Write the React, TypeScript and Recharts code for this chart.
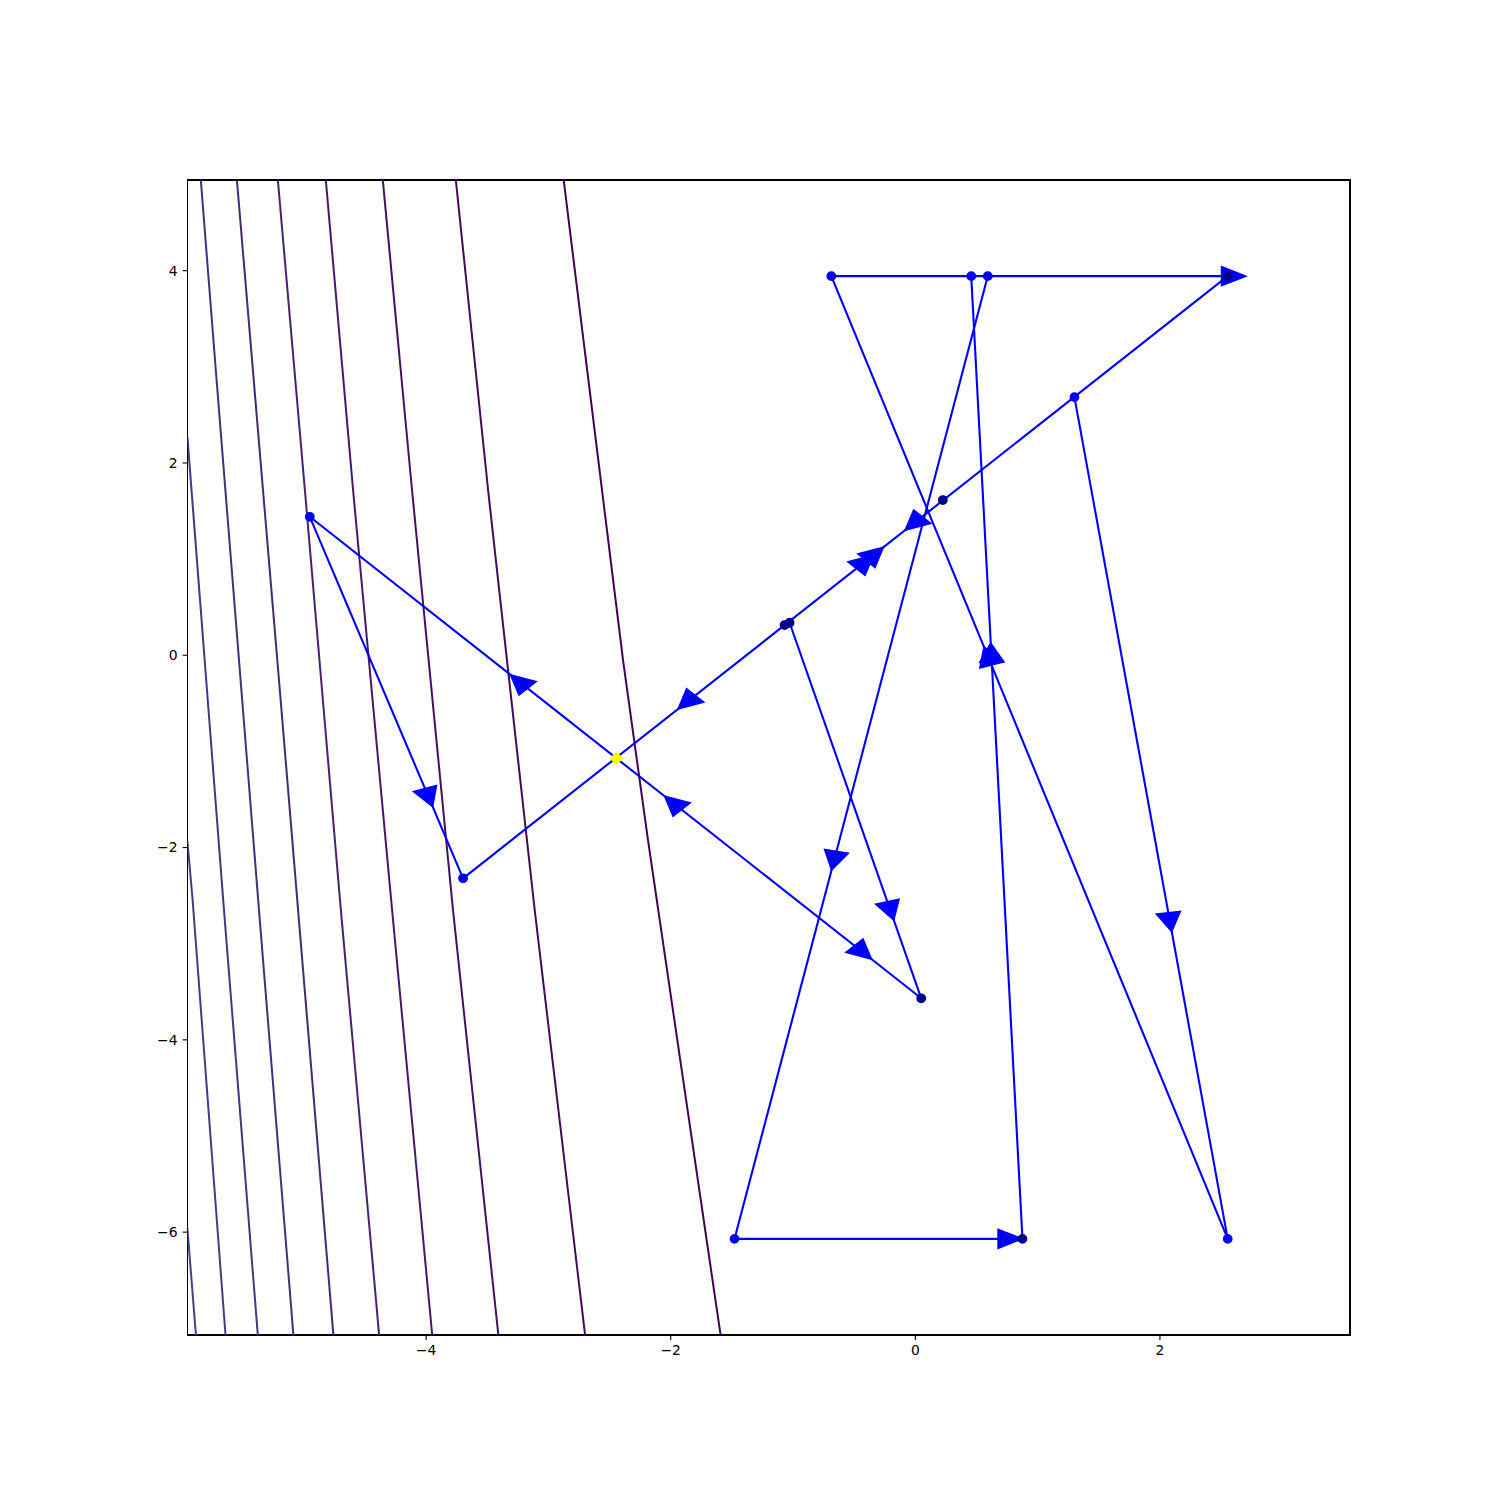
import React from 'react';
import { ComposedChart, Scatter, XAxis, YAxis, ReferenceArea } from 'recharts';

// ---- visited points ----
const pointX = [-4.951, -3.698, -0.687, 0.457, 0.592, 2.554, 1.301, 0.225, -1.069, -1.028, 0.048, -1.478, 0.876, 2.554];
const pointY = [1.44, -2.32, 3.943, 3.943, 3.943, 3.943, 2.685, 1.614, 0.314, 0.338, -3.568, -6.07, -6.07, -6.07];
const pointDark = [false, false, false, false, false, true, false, true, true, true, true, false, true, false];

// ---- segments between points (indices) ----
const segmentFrom = [0, 1, 0, 2, 2, 3, 4, 11, 6, 9];
const segmentTo = [1, 5, 10, 5, 13, 12, 11, 12, 13, 10];

// ---- arrowheads: segment, direction (+1 forward / -1 backward), tip position along segment ----
const arrowSeg = [0, 2, 1, 2, 2, 1, 1, 1, 3, 5, 4, 6, 9, 8, 7];
const arrowDir = [1, -1, -1, -1, 1, 1, 1, -1, 1, -1, -1, 1, 1, 1, 1];
const arrowT = [0.802, 0.328, 0.281, 0.58, 0.919, 0.537, 0.55, 0.578, 1.046, 0.381, 0.385, 0.617, 0.792, 0.635, 1.0];
const HEAD_WIDTH = 0.2;
const HEAD_LENGTH = 0.2;

// ---- optimum ----
const optimumX = [-2.444];
const optimumY = [-1.072];

// ---- contour lines (right to left) ----
const contourX = [
  [-2.875, -2.39, -2.186, -1.592],
  [-3.757, -3.493, -3.112, -2.7],
  [-4.354, -4.115, -3.78, -3.409],
  [-4.82, -4.597, -4.278, -3.95],
  [-5.212, -4.991, -4.697, -4.384],
  [-5.547, -5.196, -4.758],
  [-5.842, -5.713, -5.373, -5.085],
  [-5.952, -5.659, -5.376],
  [-5.952, -5.909, -5.64],
  [-5.952, -5.882],
];
const contourY = [
  [4.941, -0.05, -1.921, -7.073],
  [4.941, 1.716, -2.651, -7.073],
  [4.941, 1.716, -2.651, -7.073],
  [4.941, 1.716, -2.651, -7.073],
  [4.941, 1.716, -2.651, -7.073],
  [4.941, -0.364, -7.073],
  [4.941, 2.86, -2.547, -7.073],
  [2.277, -2.547, -7.073],
  [-1.932, -2.547, -7.073],
  [-5.957, -7.073],
];
const contourColors = ['#440154', '#45095b', '#461062', '#47186a', '#482071', '#472876', '#462e7b', '#44367f', '#433c83', '#414487'];

const xTicks = [-4, -2, 0, 2];
const yTicks = [-6, -4, -2, 0, 2, 4];

const XMIN = Math.min(...pointX) - 1;
const XMAX = Math.max(...pointX) + 1;
const YMIN = Math.min(...pointY) - 1;
const YMAX = Math.max(...pointY) + 1;

const points = pointX.map((x, i) => ({ x, y: pointY[i], dark: pointDark[i] }));
const segments = segmentFrom.map((f, i) => [points[f], points[segmentTo[i]]].map((p) => ({ x: p.x, y: p.y })));

const arrowHeads = arrowSeg.map((s, i) => {
  const a = points[segmentFrom[s]];
  const b = points[segmentTo[s]];
  const tx = a.x + arrowT[i] * (b.x - a.x);
  const ty = a.y + arrowT[i] * (b.y - a.y);
  let dx = (b.x - a.x) * arrowDir[i];
  let dy = (b.y - a.y) * arrowDir[i];
  const len = Math.hypot(dx, dy);
  dx /= len;
  dy /= len;
  const bx = tx - HEAD_LENGTH * dx;
  const by = ty - HEAD_LENGTH * dy;
  const nx = -dy * HEAD_WIDTH / 2;
  const ny = dx * HEAD_WIDTH / 2;
  return [
    { x: tx, y: ty },
    { x: bx + nx, y: by + ny },
    { x: bx - nx, y: by - ny },
  ];
});

const contours = contourX.map((xs, k) => xs.map((x, j) => ({ x, y: contourY[k][j] })));
const optimum = optimumX.map((x, i) => ({ x, y: optimumY[i] }));

const fmt = (v: number) => String(v).replace('-', '\u2212');
const noShape = () => <g />;
const FONT = 'DejaVu Sans';

const polyLine = (stroke: string, width: number) => (props: any) => {
  const pts = props.points || [];
  const d = pts.map((p: any, i: number) => `${i === 0 ? 'M' : 'L'}${p.x},${p.y}`).join(' ');
  return <path d={d} fill="none" stroke={stroke} strokeWidth={width} strokeLinejoin="round" />;
};

const triangle = (props: any) => {
  const pts = props.points || [];
  const d = pts.map((p: any, i: number) => `${i === 0 ? 'M' : 'L'}${p.x},${p.y}`).join(' ') + ' Z';
  return <path d={d} fill="#0000ff" stroke="#0000ff" strokeWidth={1.4} strokeLinejoin="miter" />;
};

const dotShape = (props: any) => {
  const c = props.payload && props.payload.dark ? '#00008a' : '#0000ff';
  return <circle cx={props.cx} cy={props.cy} r={4.2} fill={c} stroke={c} strokeWidth={1.4} />;
};

const diamondShape = (props: any) => {
  const { cx, cy } = props;
  const h = 5.9;
  return (
    <path
      d={`M${cx},${cy - h} L${cx + h},${cy} L${cx},${cy + h} L${cx - h},${cy} Z`}
      fill="#ffff00"
      stroke="#ffff00"
      strokeWidth={1.4}
    />
  );
};

export default function App() {
  return (
    <div style={{ position: 'absolute', left: 0, top: 0, width: 1500, height: 1500, background: '#fff' }}>
      <ComposedChart width={1500} height={1500} margin={{ top: 180, right: 150, bottom: 135, left: 127.5 }}>
        <XAxis
          type="number"
          dataKey="x"
          domain={[XMIN, XMAX]}
          ticks={xTicks}
          interval={0}
          allowDataOverflow
          axisLine={false}
          tickLine={{ stroke: '#000', strokeWidth: 1.1 }}
          tickSize={4.9}
          tickMargin={5}
          height={30}
          tick={{ fill: '#000', fontSize: 13.9, fontFamily: FONT }}
          tickFormatter={fmt}
        />
        <YAxis
          type="number"
          dataKey="y"
          domain={[YMIN, YMAX]}
          ticks={yTicks}
          interval={0}
          allowDataOverflow
          axisLine={false}
          tickLine={{ stroke: '#000', strokeWidth: 1.1 }}
          tickSize={4.9}
          tickMargin={5}
          width={60}
          tick={{ fill: '#000', fontSize: 13.9, fontFamily: FONT }}
          tickFormatter={fmt}
        />
        {contours.map((c, k) => (
          <Scatter
            key={`c${k}`}
            data={c}
            line={polyLine(contourColors[k], 2)}
            shape={noShape}
            isAnimationActive={false}
          />
        ))}
        {segments.map((s, k) => (
          <Scatter
            key={`s${k}`}
            data={s}
            line={polyLine('#0000ff', 2.1)}
            shape={noShape}
            isAnimationActive={false}
          />
        ))}
        {arrowHeads.map((h, k) => (
          <Scatter key={`a${k}`} data={h} line={triangle} shape={noShape} isAnimationActive={false} />
        ))}
        <Scatter data={points} shape={dotShape} isAnimationActive={false} />
        <Scatter data={optimum} shape={diamondShape} isAnimationActive={false} />
        <ReferenceArea
          x1={XMIN}
          x2={XMAX}
          y1={YMIN}
          y2={YMAX}
          fill="none"
          stroke="#000"
          strokeWidth={1.2}
          strokeOpacity={1}
          shapeRendering="crispEdges"
          ifOverflow="visible"
        />
      </ComposedChart>
    </div>
  );
}
